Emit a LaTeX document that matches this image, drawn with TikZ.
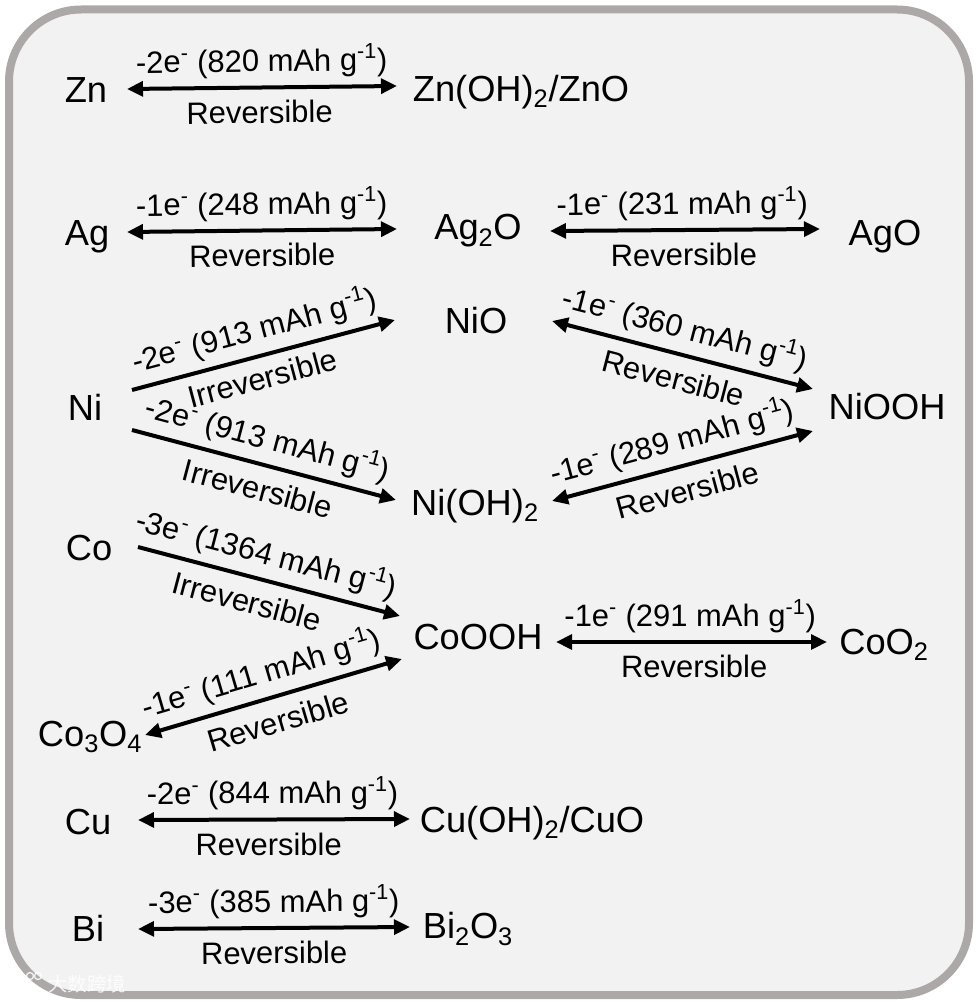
\documentclass[tikz,border=0pt]{standalone}
\usepackage{fontspec}
\setmainfont{Liberation Sans}
\newfontfamily\cjkfont{Noto Sans CJK SC}
\usetikzlibrary{arrows.meta}
\definecolor{framegray}{HTML}{ACA8A8}
\definecolor{panelgray}{HTML}{F2F2F2}
\newcommand{\charge}[2]{-#1e\textsuperscript{-} (#2 mAh g\textsuperscript{-1})}
\tikzset{
  species/.style={font=\fontsize{27.2}{30}\selectfont,inner sep=0pt},
  oneway/.style={-{Triangle[length=12pt,width=11pt]},line width=3pt},
  twoway/.style={{Triangle[length=12pt,width=11pt]}-{Triangle[length=12pt,width=11pt]},line width=3pt},
  uplabel/.style={midway,sloped,above=5.5pt,inner sep=0pt,font=\fontsize{23.2}{26}\selectfont},
  lowlabel/.style={midway,sloped,below=8.5pt,inner sep=0pt,font=\fontsize{23.2}{26}\selectfont},
  nearlabel/.style={midway,sloped,below=6.5pt,inner sep=0pt,font=\fontsize{23.2}{26}\selectfont}
}
\begin{document}
\begin{tikzpicture}[x=0.75pt,y=-0.75pt]
  \useasboundingbox (0,0) rectangle (977,1002);
  \draw[line width=6pt,draw=framegray,fill=panelgray,rounded corners=54pt] (9,9.5) rectangle (969,995);

  \node[species] (zn) at (86,90) {Zn};
  \node[species] (znoh) at (521,92) {Zn(OH)\textsubscript{2}/ZnO};
  \node[species] (ag) at (87,237) {Ag};
  \node[species] (agtwoo) at (478,231) {Ag\textsubscript{2}O};
  \node[species] (ago) at (885,237) {AgO};
  \node[species] (nio) at (476,321) {NiO};
  \node[species] (ni) at (85,407) {Ni};
  \node[species] (niooh) at (887,407) {NiOOH};
  \node[species] (nioh) at (475,506) {Ni(OH)\textsubscript{2}};
  \node[species] (co) at (89,548) {Co};
  \node[species] (coooh) at (478,637) {CoOOH};
  \node[species] (cooo) at (884,645) {CoO\textsubscript{2}};
  \node[species] (cothree) at (90,737) {Co\textsubscript{3}O\textsubscript{4}};
  \node[species] (cu) at (88,822) {Cu};
  \node[species] (cuoh) at (532,823) {Cu(OH)\textsubscript{2}/CuO};
  \node[species] (bi) at (88,928) {Bi};
  \node[species] (bio) at (468,929) {Bi\textsubscript{2}O\textsubscript{3}};

  \draw[twoway] ([shift={(41,-1)}]zn.center) -- ([shift={(-124,-6)}]znoh.center)
    node[uplabel] {\charge{2}{820}} node[lowlabel,pos=0.49] {Reversible};
  \draw[twoway] ([shift={(40,-5)}]ag.center) -- ([shift={(-81,-2)}]agtwoo.center)
    node[uplabel] {\charge{1}{248}} node[lowlabel] {Reversible};
  \draw[twoway] ([shift={(72,0)}]agtwoo.center) -- ([shift={(-65,-8)}]ago.center)
    node[uplabel,pos=0.49] {\charge{1}{231}} node[lowlabel,pos=0.495] {Reversible};
  \draw[oneway] ([shift={(47,-17)}]ni.center) -- ([shift={(-81,-1)}]nio.center)
    node[uplabel,pos=0.49] {\charge{2}{913}} node[nearlabel,pos=0.475] {Irreversible};
  \draw[oneway] ([shift={(47,23)}]ni.center) -- ([shift={(-79,-6)}]nioh.center)
    node[uplabel,pos=0.49] {\charge{2}{913}} node[lowlabel] {Irreversible};
  \draw[twoway] ([shift={(76,0)}]nio.center) -- ([shift={(-74,-18)}]niooh.center)
    node[uplabel,pos=0.485] {\charge{1}{360}} node[lowlabel,pos=0.49] {Reversible};
  \draw[twoway] ([shift={(77,-5)}]nioh.center) -- ([shift={(-74,24)}]niooh.center)
    node[uplabel,pos=0.485] {\charge{1}{289}} node[lowlabel,pos=0.495] {Reversible};
  \draw[oneway] ([shift={(49,-1)}]co.center) -- ([shift={(-78,-21)}]coooh.center)
    node[uplabel,pos=0.465] {\charge{3}{1364}} node[lowlabel,pos=0.44] {Irreversible};
  \draw[twoway] ([shift={(55,-2)}]cothree.center) -- ([shift={(-76,22)}]coooh.center)
    node[uplabel,pos=0.48] {\charge{1}{111}} node[lowlabel,pos=0.49] {Reversible};
  \draw[twoway] ([shift={(78,5)}]coooh.center) -- ([shift={(-57,-3)}]cooo.center)
    node[uplabel,pos=0.495] {\charge{1}{291}} node[lowlabel,pos=0.51] {Reversible};
  \draw[twoway] ([shift={(50,-2)}]cu.center) -- ([shift={(-122,-4)}]cuoh.center)
    node[uplabel,pos=0.495] {\charge{2}{844}} node[lowlabel,pos=0.48] {Reversible};
  \draw[twoway] ([shift={(50,1)}]bi.center) -- ([shift={(-58,-2)}]bio.center)
    node[uplabel] {\charge{3}{385}} node[lowlabel] {Reversible};

  \node[text=white,opacity=0.85,font=\cjkfont\fontsize{14.5}{16}\selectfont,inner sep=0pt] (mark) at (87,984) {大数跨境};
  \draw[white,opacity=0.85,line width=1.5pt] (13,975) -- (13,992) (27,978) .. controls (16,980) and (16,990) .. (30,992);
  \draw[white,opacity=0.85,line width=1pt] (30,976) circle (3.5) (38,976) circle (3.5);
\end{tikzpicture}
\end{document}
